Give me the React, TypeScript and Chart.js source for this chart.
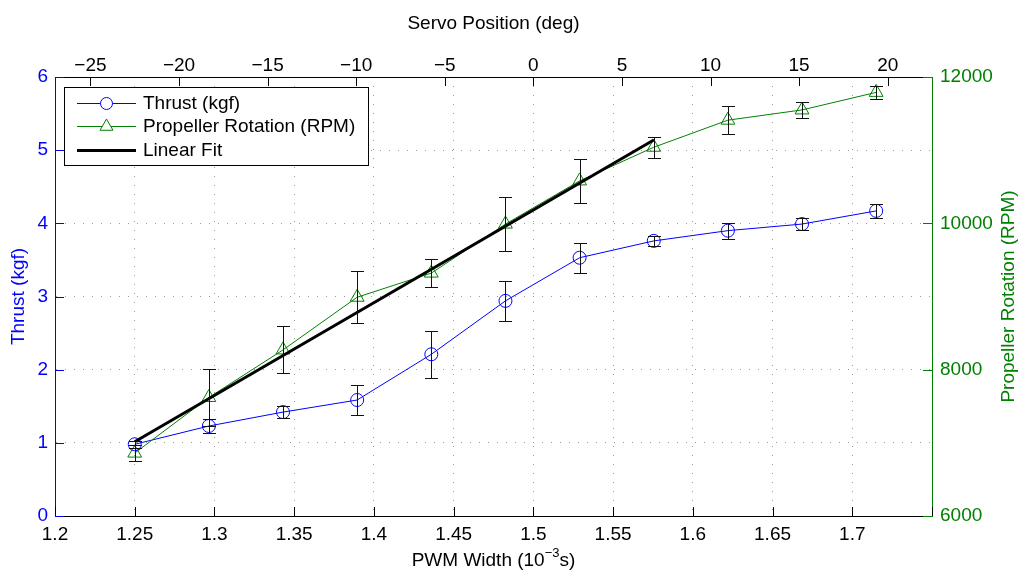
import React, { useEffect, useRef } from 'react';
import { Chart, registerables } from 'chart.js';

Chart.register(...registerables);

// ---- data ----
const pwm = [1.25, 1.2965, 1.343, 1.3895, 1.436, 1.4825, 1.529, 1.5755, 1.622, 1.6685, 1.715];
const thrust = [0.98, 1.23, 1.42, 1.585, 2.21, 2.94, 3.53, 3.76, 3.9, 3.99, 4.17];
const thrustErr = [0.05, 0.09, 0.086, 0.2, 0.32, 0.27, 0.205, 0.068, 0.11, 0.08, 0.096];
const rpm = [6860, 7620, 8270, 8990, 9320, 9990, 10580, 11040, 11410, 11550, 11790];
const rpmErr = [110, 385, 320, 357, 187, 373, 305, 146, 187, 114, 84];
const fitPwm = [1.25, 1.5755];
const fitRpm = [7015, 11140];

const pwmTicks = [1.2, 1.25, 1.3, 1.35, 1.4, 1.45, 1.5, 1.55, 1.6, 1.65, 1.7, 1.75];
const pwmTickLabels = ['1.2', '1.25', '1.3', '1.35', '1.4', '1.45', '1.5', '1.55', '1.6', '1.65', '1.7', ''];
const servoTicks = [-25, -20, -15, -10, -5, 0, 5, 10, 15, 20];
const servoTickLabels = ['\u221225', '\u221220', '\u221215', '\u221210', '\u22125', '0', '5', '10', '15', '20'];
const thrustTicks = [0, 1, 2, 3, 4, 5, 6];
const thrustTickLabels = ['0', '1', '2', '3', '4', '5', '6'];
const rpmTicks = [6000, 8000, 10000, 12000];
const rpmTickLabels = ['6000', '8000', '10000', '12000'];

const seriesLabels = ['Thrust (kgf)', 'Propeller Rotation (RPM)', 'Linear Fit'];
const xTitle = 'PWM Width (10';
const xTitleSup = '\u22123';
const xTitleEnd = 's)';
const x2Title = 'Servo Position (deg)';
const yTitle = 'Thrust (kgf)';
const y2Title = 'Propeller Rotation (RPM)';

const BLUE = '#0000ff';
const GREEN = '#008000';
const FONT = '"Liberation Sans", Arial, Helvetica, sans-serif';
const FS = 19;

const lookup = (vals: number[], labels: string[]) => (v: number) => {
  const i = vals.findIndex((t) => Math.abs(t - v) < 1e-9);
  return i >= 0 ? labels[i] : '';
};

const setTicks = (vals: number[]) => (scale: any) => {
  scale.ticks = vals.map((v) => ({ value: v }));
};

const innerGrid = (lo: number, hi: number) => (ctx: any) => {
  const v = ctx.tick ? ctx.tick.value : null;
  if (v === null || Math.abs(v - lo) < 1e-9 || Math.abs(v - hi) < 1e-9) return 'rgba(0,0,0,0)';
  return '#9a9a9a';
};

const decor = {
  id: 'decor',
  afterDatasetsDraw(chart: any) {
    const ctx = chart.ctx;
    const sx = chart.scales.x;
    const sy = chart.scales.y;
    const sy2 = chart.scales.y2;
    ctx.save();
    ctx.strokeStyle = '#111';
    ctx.lineWidth = 1;
    const err = (p: number, v: number, e: number, sc: any) => {
      const px = Math.round(sx.getPixelForValue(p)) + 0.5;
      const yt = Math.round(sc.getPixelForValue(v + e)) + 0.5;
      const yb = Math.round(sc.getPixelForValue(v - e)) + 0.5;
      ctx.beginPath();
      ctx.moveTo(px, yt);
      ctx.lineTo(px, yb);
      ctx.moveTo(px - 6.5, yt);
      ctx.lineTo(px + 6.5, yt);
      ctx.moveTo(px - 6.5, yb);
      ctx.lineTo(px + 6.5, yb);
      ctx.stroke();
    };
    pwm.forEach((p, i) => err(p, thrust[i], thrustErr[i], sy));
    pwm.forEach((p, i) => err(p, rpm[i], rpmErr[i], sy2));
    ctx.restore();
  },
  afterDraw(chart: any) {
    const ctx = chart.ctx;
    const { x, x2, y, y2 } = chart.scales;
    const a = chart.chartArea;
    const L = 9;
    ctx.save();
    ctx.lineWidth = 1;
    // inward ticks
    ctx.strokeStyle = '#000';
    ctx.beginPath();
    pwmTicks.forEach((v) => {
      const p = Math.round(x.getPixelForValue(v)) + 0.5;
      ctx.moveTo(p, a.bottom);
      ctx.lineTo(p, a.bottom - L);
    });
    servoTicks.forEach((v) => {
      const p = Math.round(x2.getPixelForValue(v)) + 0.5;
      ctx.moveTo(p, a.top);
      ctx.lineTo(p, a.top + L);
    });
    ctx.stroke();
    ctx.strokeStyle = BLUE;
    ctx.beginPath();
    thrustTicks.forEach((v) => {
      const p = Math.round(y.getPixelForValue(v)) + 0.5;
      ctx.moveTo(a.left, p);
      ctx.lineTo(a.left + L, p);
    });
    ctx.stroke();
    ctx.strokeStyle = GREEN;
    ctx.beginPath();
    rpmTicks.forEach((v) => {
      const p = Math.round(y2.getPixelForValue(v)) + 0.5;
      ctx.moveTo(a.right, p);
      ctx.lineTo(a.right - L, p);
    });
    ctx.stroke();

    // titles
    const cx = (a.left + a.right) / 2;
    const cy = (a.top + a.bottom) / 2;
    ctx.font = `${FS}px ${FONT}`;
    ctx.fillStyle = '#000';
    ctx.textAlign = 'center';
    ctx.textBaseline = 'alphabetic';
    ctx.fillText(x2Title, cx, 29);

    // bottom title with superscript
    const supFont = `13px ${FONT}`;
    ctx.font = `${FS}px ${FONT}`;
    const w1 = ctx.measureText(xTitle).width;
    const w3 = ctx.measureText(xTitleEnd).width;
    ctx.font = supFont;
    const w2 = ctx.measureText(xTitleSup).width;
    const total = w1 + w2 + w3;
    let sxp = cx - total / 2;
    ctx.textAlign = 'left';
    ctx.font = `${FS}px ${FONT}`;
    ctx.fillText(xTitle, sxp, 566);
    sxp += w1;
    ctx.font = supFont;
    ctx.fillText(xTitleSup, sxp, 557);
    sxp += w2;
    ctx.font = `${FS}px ${FONT}`;
    ctx.fillText(xTitleEnd, sxp, 566);

    // vertical titles
    ctx.textAlign = 'center';
    ctx.textBaseline = 'middle';
    ctx.save();
    ctx.translate(19, cy);
    ctx.rotate(-Math.PI / 2);
    ctx.fillStyle = BLUE;
    ctx.fillText(yTitle, 0, 0);
    ctx.restore();
    ctx.save();
    ctx.translate(1009, cy);
    ctx.rotate(-Math.PI / 2);
    ctx.fillStyle = GREEN;
    ctx.fillText(y2Title, 0, 0);
    ctx.restore();

    // legend
    const bx = 64.5, by = 87.5, bw = 304, bh = 78;
    ctx.fillStyle = '#fff';
    ctx.fillRect(bx, by, bw, bh);
    ctx.strokeStyle = '#000';
    ctx.lineWidth = 1;
    ctx.strokeRect(bx, by, bw, bh);
    const rows = [103, 126, 150];
    const colors = [BLUE, GREEN, '#000'];
    rows.forEach((ry, i) => {
      ctx.strokeStyle = colors[i];
      ctx.lineWidth = i === 2 ? 3 : 1;
      ctx.beginPath();
      ctx.moveTo(77, ry + 0.5);
      ctx.lineTo(136, ry + 0.5);
      ctx.stroke();
      ctx.lineWidth = 1;
      if (i === 0) {
        ctx.fillStyle = '#fff';
        ctx.beginPath();
        ctx.arc(106.5, ry + 0.5, 6, 0, Math.PI * 2);
        ctx.fill();
        ctx.stroke();
      } else if (i === 1) {
        const r = 7.5;
        ctx.fillStyle = '#fff';
        ctx.beginPath();
        ctx.moveTo(106.5, ry + 0.5 - r);
        ctx.lineTo(106.5 + r * 0.866, ry + 0.5 + r / 2);
        ctx.lineTo(106.5 - r * 0.866, ry + 0.5 + r / 2);
        ctx.closePath();
        ctx.fill();
        ctx.stroke();
      }
      ctx.fillStyle = '#000';
      ctx.font = `${FS}px ${FONT}`;
      ctx.textAlign = 'left';
      ctx.textBaseline = 'middle';
      ctx.fillText(seriesLabels[i], 143, ry + 1);
    });
    ctx.restore();
  },
};

export default function App() {
  const ref = useRef<HTMLCanvasElement | null>(null);
  useEffect(() => {
    if (!ref.current) return;
    const font = { family: FONT, size: FS };
    const chart = new Chart(ref.current, {
      type: 'line',
      data: {
        datasets: [
          {
            label: seriesLabels[0],
            data: pwm.map((p, i) => ({ x: p, y: thrust[i] })),
            xAxisID: 'x',
            yAxisID: 'y',
            borderColor: BLUE,
            borderWidth: 1,
            pointStyle: 'circle',
            pointRadius: 6.5,
            pointBorderColor: BLUE,
            pointBackgroundColor: 'rgba(0,0,0,0)',
            pointBorderWidth: 1,
            tension: 0,
            order: 3,
          },
          {
            label: seriesLabels[1],
            data: pwm.map((p, i) => ({ x: p, y: rpm[i] })),
            xAxisID: 'x',
            yAxisID: 'y2',
            borderColor: GREEN,
            borderWidth: 1,
            pointStyle: 'triangle',
            pointRadius: 8,
            pointBorderColor: GREEN,
            pointBackgroundColor: 'rgba(0,0,0,0)',
            pointBorderWidth: 1,
            tension: 0,
            order: 2,
          },
          {
            label: seriesLabels[2],
            data: fitPwm.map((p, i) => ({ x: p, y: fitRpm[i] })),
            xAxisID: 'x',
            yAxisID: 'y2',
            borderColor: '#000',
            borderWidth: 3,
            pointRadius: 0,
            tension: 0,
            order: 1,
          },
        ],
      },
      options: {
        responsive: false,
        animation: false,
        devicePixelRatio: 1,
        layout: { padding: 0 },
        plugins: { legend: { display: false }, tooltip: { enabled: false } },
        scales: {
          x: {
            type: 'linear',
            position: 'bottom',
            min: 1.2,
            max: 1.75,
            afterBuildTicks: setTicks(pwmTicks),
            afterFit: (s: any) => { s.height = 56; },
            ticks: { callback: (v: any) => lookup(pwmTicks, pwmTickLabels)(Number(v)), color: '#000', font, padding: 7, autoSkip: false, maxRotation: 0 },
            grid: { drawTicks: false, color: innerGrid(1.2, 1.75), lineWidth: 1 },
            border: { color: '#000', width: 1, dash: [1, 8] },
          },
          x2: {
            type: 'linear',
            position: 'top',
            min: -27,
            max: 22.5,
            afterBuildTicks: setTicks(servoTicks),
            afterFit: (s: any) => { s.height = 77; },
            ticks: { callback: (v: any) => lookup(servoTicks, servoTickLabels)(Number(v)), color: '#000', font, padding: 0, autoSkip: false, maxRotation: 0 },
            grid: { drawTicks: false, drawOnChartArea: false },
            border: { color: '#000', width: 1 },
          },
          y: {
            type: 'linear',
            position: 'left',
            min: 0,
            max: 6,
            afterBuildTicks: setTicks(thrustTicks),
            afterFit: (s: any) => { s.width = 55; },
            ticks: { callback: (v: any) => lookup(thrustTicks, thrustTickLabels)(Number(v)), color: BLUE, font, padding: 7, autoSkip: false },
            grid: { drawTicks: false, color: innerGrid(0, 6), lineWidth: 1 },
            border: { color: BLUE, width: 1, dash: [1, 8] },
          },
          y2: {
            type: 'linear',
            position: 'right',
            min: 6000,
            max: 12000,
            afterBuildTicks: setTicks(rpmTicks),
            afterFit: (s: any) => { s.width = 87; },
            ticks: { callback: (v: any) => lookup(rpmTicks, rpmTickLabels)(Number(v)), color: GREEN, font, padding: 8, autoSkip: false },
            grid: { drawTicks: false, drawOnChartArea: false },
            border: { color: GREEN, width: 1 },
          },
        },
      },
      plugins: [decor],
    } as any);
    return () => chart.destroy();
  }, []);
  return (
    <div style={{ position: 'absolute', left: 0, top: 0, width: 1019, height: 572, background: '#fff' }}>
      <canvas ref={ref} width={1019} height={572} style={{ display: 'block' }} />
    </div>
  );
}
